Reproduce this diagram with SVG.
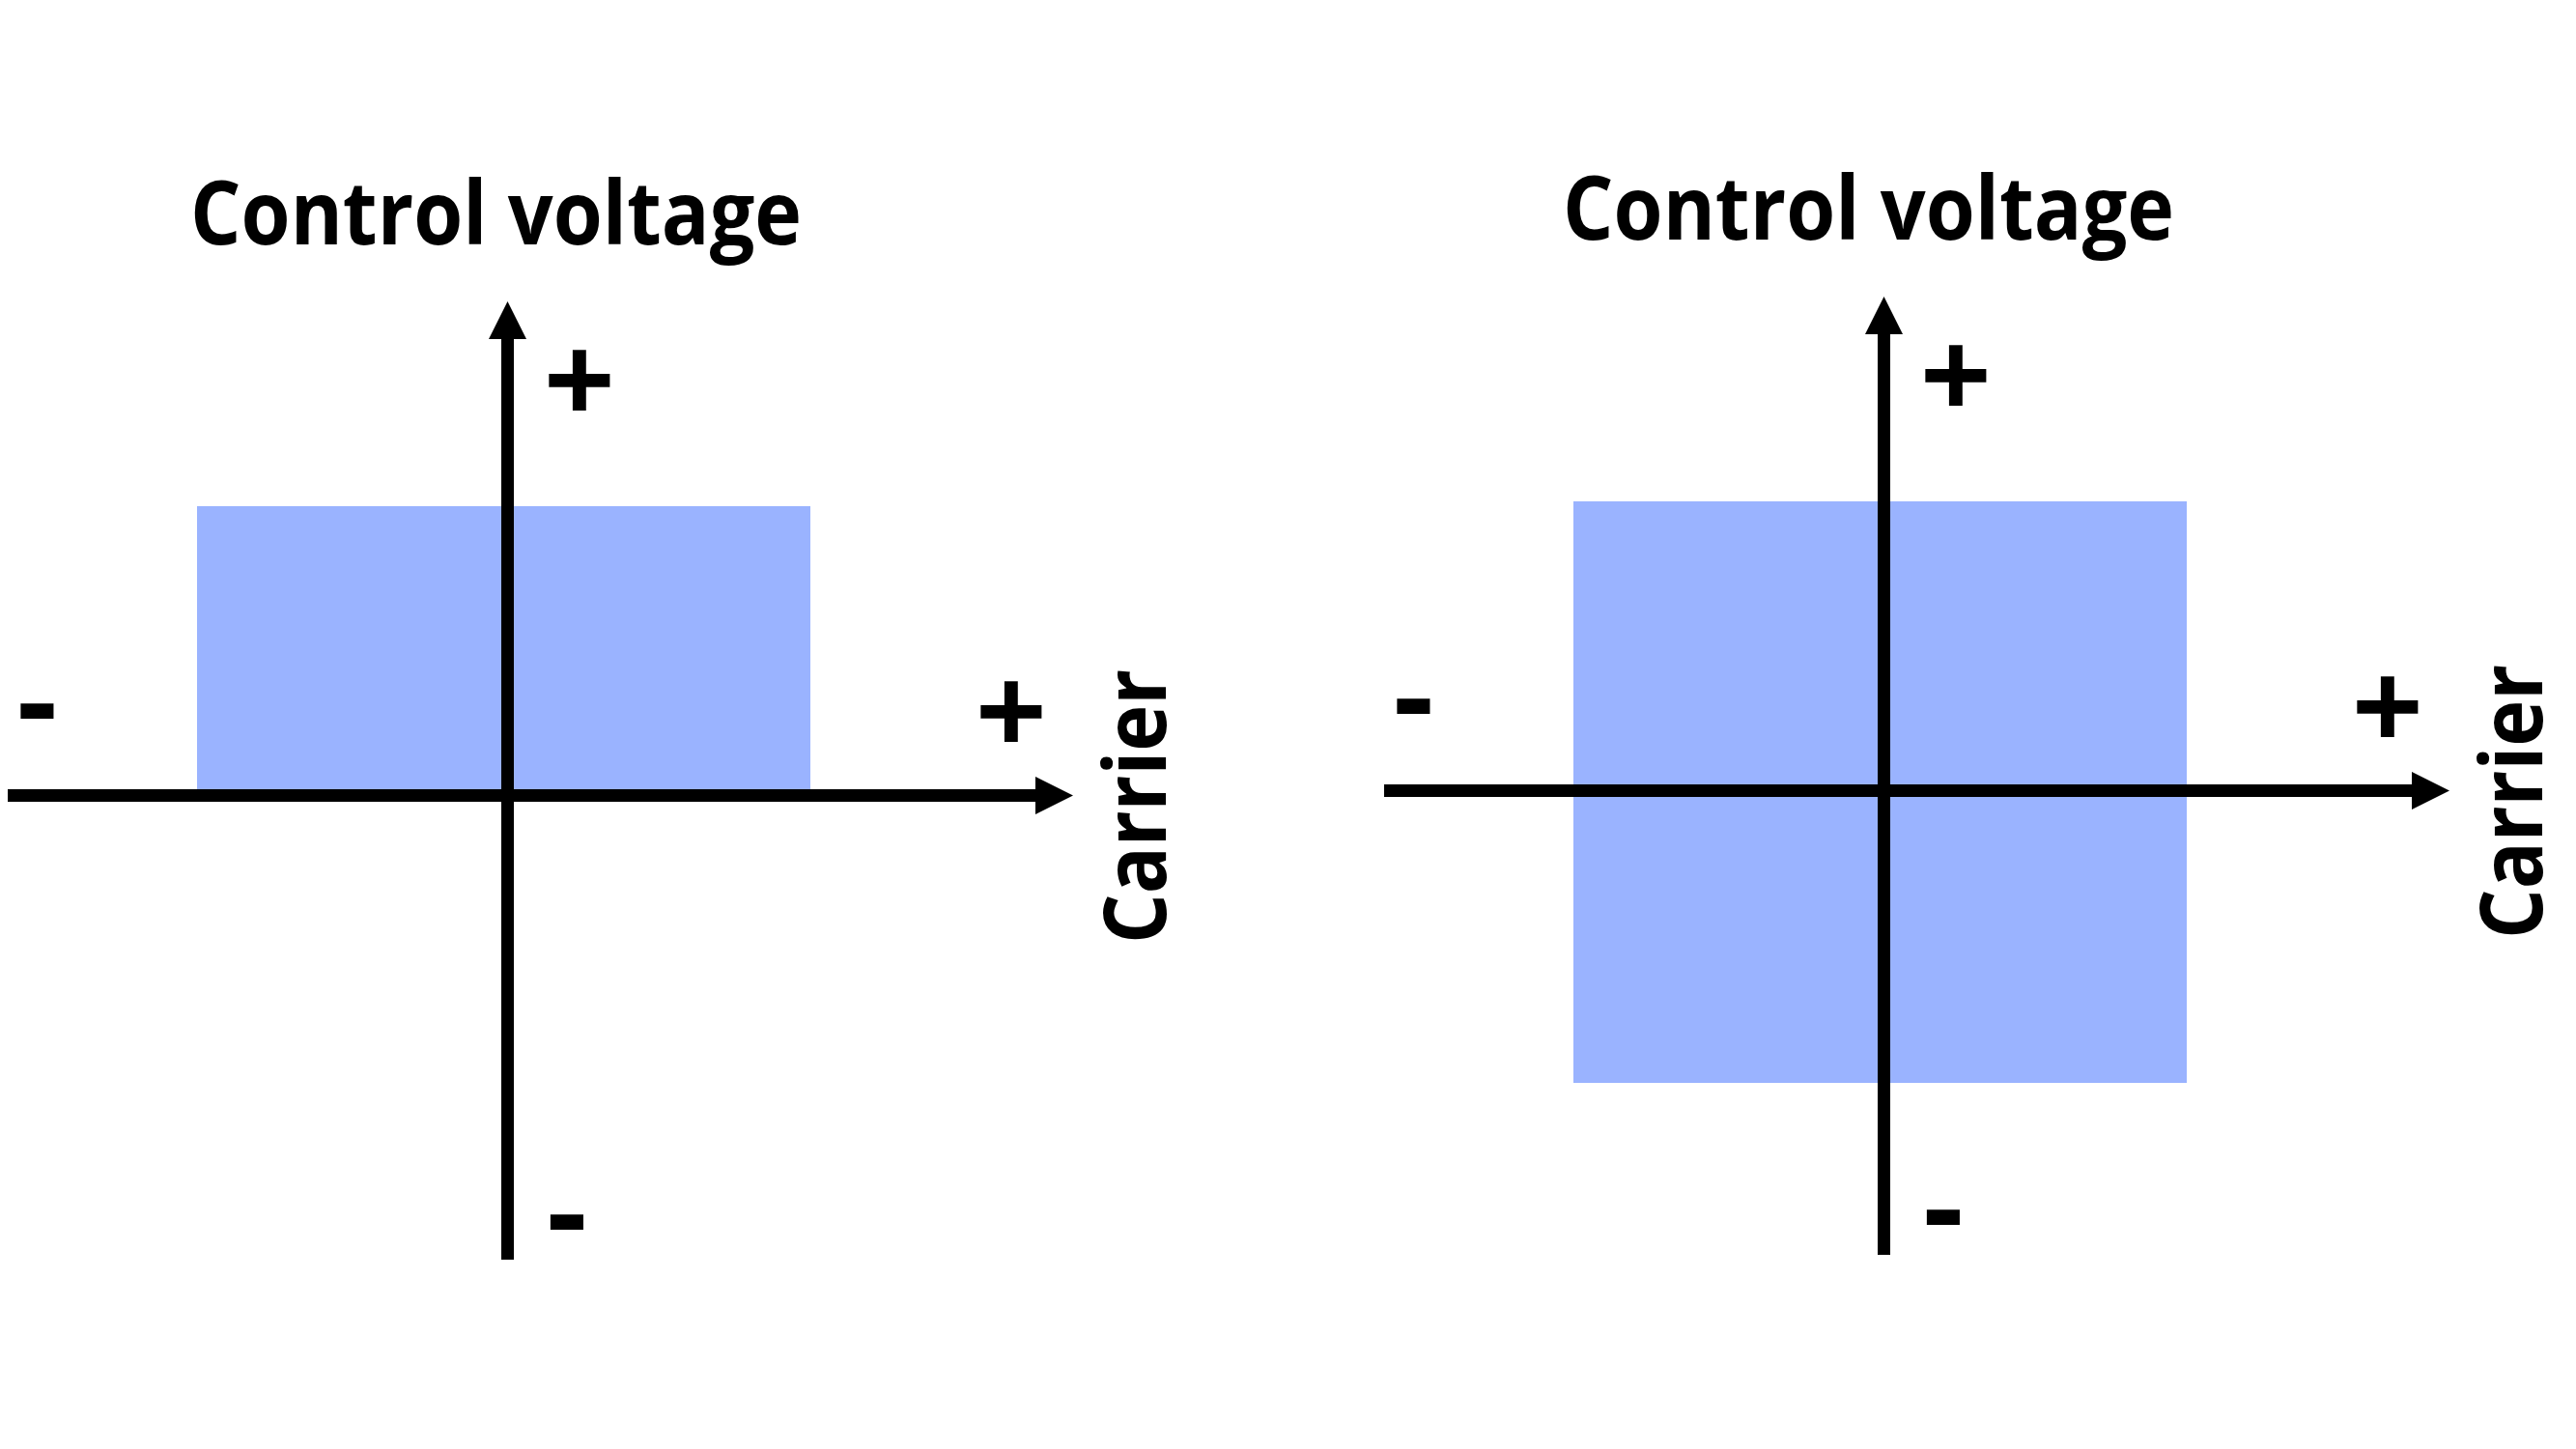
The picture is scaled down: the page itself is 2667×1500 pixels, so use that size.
<svg xmlns="http://www.w3.org/2000/svg" width="2667" height="1500" viewBox="0 0 2667 1500">
  <style>
    .axis { stroke: #000; stroke-width: 13; fill: none; marker-end: url(#arrow); }
    .region { fill: #9AB3FF; }
    .title { font-family: "Open Sans", "Liberation Sans", sans-serif; font-weight: 700; font-size: 91px; fill: #000; }
    .sign { font-family: "Open Sans", "Liberation Sans", sans-serif; font-weight: 700; font-size: 130px; fill: #000; text-anchor: middle; }
    .axlabel { font-family: "Open Sans", "Liberation Sans", sans-serif; font-weight: 700; font-size: 90px; fill: #000; }
  </style>
  <defs>
    <marker id="arrow" markerUnits="userSpaceOnUse" markerWidth="40" markerHeight="40" refX="0" refY="20" orient="auto" overflow="visible">
      <path d="M0,0.5 L39,20 L0,39.5 Z" fill="#000"/>
    </marker>
  </defs>
  <rect width="2667" height="1500" fill="#fff"/>

  <g id="left-diagram">
    <g id="left-region"><rect class="region" x="204" y="524" width="635" height="299"/></g>
    <g id="left-title"><text class="title" x="197" y="253" textLength="633" lengthAdjust="spacingAndGlyphs">Control voltage</text></g>
    <g id="left-signs">
      <text class="sign" x="600" y="439">+</text>
      <text class="sign" x="1047" y="782">+</text>
      <text class="sign" x="38.5" y="771">-</text>
      <text class="sign" x="587" y="1300">-</text>
    </g>
    <g id="left-carrier"><text class="axlabel" x="1207" y="977" transform="rotate(-90 1207 977)" textLength="284" lengthAdjust="spacingAndGlyphs">Carrier</text></g>
  </g>

  <g id="right-diagram">
    <g id="right-region"><rect class="region" x="1629" y="519" width="635" height="602"/></g>
    <g id="right-title"><text class="title" x="1618" y="248" textLength="633" lengthAdjust="spacingAndGlyphs">Control voltage</text></g>
    <g id="right-signs">
      <text class="sign" x="2025" y="434">+</text>
      <text class="sign" x="2472" y="777">+</text>
      <text class="sign" x="1463.5" y="766">-</text>
      <text class="sign" x="2012" y="1295">-</text>
    </g>
    <g id="right-carrier"><text class="axlabel" x="2632" y="972" transform="rotate(-90 2632 972)" textLength="284" lengthAdjust="spacingAndGlyphs">Carrier</text></g>
  </g>

  <g id="connectors">
    <line class="axis" x1="525.5" y1="1304" x2="525.5" y2="351"/>
    <line class="axis" x1="8" y1="823.5" x2="1072" y2="823.5"/>
    <line class="axis" x1="1950.5" y1="1299" x2="1950.5" y2="346"/>
    <line class="axis" x1="1433" y1="818.5" x2="2497" y2="818.5"/>
  </g>
</svg>
